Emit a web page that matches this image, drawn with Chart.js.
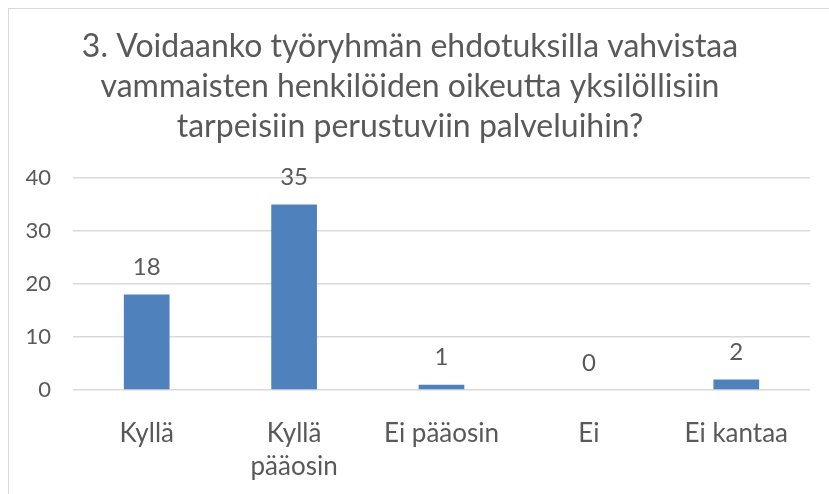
<!DOCTYPE html>
<html>
<head>
<meta charset="utf-8">
<script src="https://cdn.jsdelivr.net/npm/chart.js@4.4.1/dist/chart.umd.min.js"></script>
<style>
    html, body { margin: 0; padding: 0; background: #fff; }
    #wrap { position: relative; width: 829px; height: 494px; overflow: hidden; }
    #frame { position: absolute; left: 8px; top: 8px; width: 900px; height: 600px; border: 1px solid #d9d9d9; box-sizing: border-box; }
    #chart { position: absolute; left: 0; top: 0; }
</style>
</head>
<body>
<div id="wrap">
    <div id="frame"></div>
    <canvas id="chart" width="829" height="494"></canvas>
</div>
<script>
// ── Data ──

const TITLE_LINES = [
    "3. Voidaanko työryhmän ehdotuksilla vahvistaa",
    "vammaisten henkilöiden oikeutta yksilöllisiin",
    "tarpeisiin perustuviin palveluihin?",
];
const CATEGORIES = [["Kyllä"], ["Kyllä", "pääosin"], ["Ei pääosin"], ["Ei"], ["Ei kantaa"]];
const VALUES = [18, 35, 1, 0, 2];
const Y_TICKS = [0, 10, 20, 30, 40];

const BAR_COLOR = "#4F81BD";
const TEXT_COLOR = "#595959";
const FONT = "Lato, 'Open Sans', sans-serif";

// ── Value labels above bars ──

const valueLabels = {
    id: "valueLabels",
    afterDatasetsDraw(chart) {
        const ctx = chart.ctx;
        const meta = chart.getDatasetMeta(0);
        ctx.save();
        ctx.font = "24px " + FONT;
        ctx.fillStyle = TEXT_COLOR;
        ctx.textAlign = "center";
        ctx.textBaseline = "middle";
        meta.data.forEach((bar, i) => {
            ctx.fillText(String(VALUES[i]), bar.x, bar.y - 27);
        });
        ctx.restore();
    }
};

new Chart(document.getElementById("chart"), {
    type: "bar",
    data: {
        labels: CATEGORIES,
        datasets: [{
            data: VALUES,
            backgroundColor: BAR_COLOR,
            borderWidth: 0,
            barPercentage: 0.31,
            categoryPercentage: 1,
        }],
    },
    options: {
        responsive: false,
        animation: false,
        layout: { padding: { left: 10, right: 19, top: 0, bottom: 0 } },
        plugins: {
            legend: { display: false },
            tooltip: { enabled: false },
            title: {
                display: true,
                text: TITLE_LINES,
                color: TEXT_COLOR,
                font: { family: FONT, size: 32, weight: "normal", lineHeight: 1.25 },
                padding: { top: 27, bottom: 31 },
            },
        },
        scales: {
            x: {
                afterFit(scale) { scale.height = 104; },
                grid: { display: false },
                border: { display: false },
                ticks: {
                    color: TEXT_COLOR,
                    font: { family: FONT, size: 26, lineHeight: 1.28 },
                    maxRotation: 0,
                    autoSkip: false,
                    padding: 19,
                },
            },
            y: {
                min: 0,
                max: 40,
                afterBuildTicks(scale) { scale.ticks = Y_TICKS.map(v => ({ value: v })); },
                afterFit(scale) { scale.width = 63; },
                grid: { color: "#d9d9d9", drawTicks: false, lineWidth: 1.5 },
                border: { display: false },
                ticks: {
                    color: TEXT_COLOR,
                    font: { family: FONT, size: 22 },
                    padding: 22,
                },
            },
        },
    },
    plugins: [valueLabels],
});
</script>
</body>
</html>
